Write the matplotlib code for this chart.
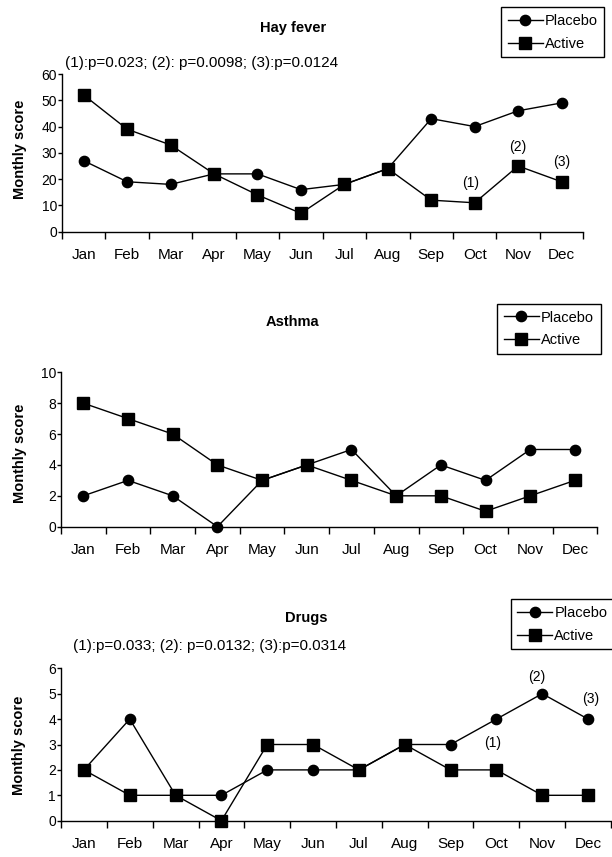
import matplotlib
matplotlib.use("Agg")
import matplotlib.pyplot as plt
from matplotlib.lines import Line2D

plt.rcParams['font.family'] = ['Liberation Sans', 'DejaVu Sans']

months = ["Jan", "Feb", "Mar", "Apr", "May", "Jun", "Jul", "Aug", "Sep", "Oct", "Nov", "Dec"]

hay_placebo = [27, 19, 18, 22, 22, 16, 18, 24, 43, 40, 46, 49]
hay_active = [52, 39, 33, 22, 14, 7, 18, 24, 12, 11, 25, 19]
hay_yticks = [0, 10, 20, 30, 40, 50, 60]
hay_note = "(1):p=0.023; (2): p=0.0098; (3):p=0.0124"
hay_labels = ["(1)", "(2)", "(3)"]
hay_label_month = [9, 10, 11]
hay_label_y = [18.4, 32.3, 26.6]

asthma_placebo = [2, 3, 2, 0, 3, 4, 5, 2, 4, 3, 5, 5]
asthma_active = [8, 7, 6, 4, 3, 4, 3, 2, 2, 1, 2, 3]
asthma_yticks = [0, 2, 4, 6, 8, 10]

drugs_placebo = [2, 4, 1, 1, 2, 2, 2, 3, 3, 4, 5, 4]
drugs_active = [2, 1, 1, 0, 3, 3, 2, 3, 2, 2, 1, 1]
drugs_yticks = [0, 1, 2, 3, 4, 5, 6]
drugs_note = "(1):p=0.033; (2): p=0.0132; (3):p=0.0314"
drugs_labels = ["(1)", "(2)", "(3)"]
drugs_label_month = [9, 10, 11]
drugs_label_y = [3.06, 5.66, 4.8]

W, H = 612, 857
fig = plt.figure(figsize=(W / 100, H / 100), dpi=100)

CIRC_MS = 7.4
SQ_MS = 8.1


def make_axes(x0, x1, ytop, ybot):
    return fig.add_axes([x0 / W, 1 - ybot / H, (x1 - x0) / W, (ybot - ytop) / H])


def draw_panel(ax, placebo, active, yticks, title, title_xy, legend_xy, ylabel_xy,
               note=None, note_xy=None, labels=None, label_month=None, label_y=None,
               label_dx=None):
    xs = [i + 0.5 for i in range(len(months))]
    ax.plot(xs, placebo, color='black', lw=1, marker='o', ms=CIRC_MS, clip_on=False, zorder=3)
    ax.plot(xs, active, color='black', lw=1, marker='s', ms=SQ_MS, clip_on=False, zorder=4)
    ax.set_xlim(0, len(months))
    ax.set_ylim(yticks[0], yticks[-1])
    ax.set_yticks(yticks)
    ax.set_yticklabels([str(t) for t in yticks], fontsize=10)
    ax.set_xticks(range(len(months) + 1))
    ax.set_xticklabels([])
    ax.set_xticks(xs, minor=True)
    ax.set_xticklabels(months, minor=True, fontsize=11)
    ax.tick_params(axis='x', which='minor', length=0, pad=12)
    ax.tick_params(axis='x', which='major', length=5, width=1, direction='out')
    ax.tick_params(axis='y', length=3.1, width=1, direction='out', pad=0.5)
    for s in ['top', 'right']:
        ax.spines[s].set_visible(False)
    for s in ['left', 'bottom']:
        ax.spines[s].set_linewidth(1)
    fig.text(ylabel_xy[0] / W, 1 - ylabel_xy[1] / H, "Monthly score", rotation=90,
             ha='center', va='center', fontsize=10.5, fontweight='bold')
    fig.text(title_xy[0] / W, 1 - title_xy[1] / H, title, ha='center', va='center',
             fontsize=10.5, fontweight='bold')
    if note:
        fig.text(note_xy[0] / W, 1 - note_xy[1] / H, note, ha='left', va='center', fontsize=11)
    if labels:
        for lab, i, v, dx in zip(labels, label_month, label_y, label_dx):
            ax.text(i + 0.5 + dx, v, lab, ha='center', va='center', fontsize=10)
    handles = [Line2D([], [], color='black', lw=1, marker='o', ms=CIRC_MS),
               Line2D([], [], color='black', lw=1, marker='s', ms=SQ_MS)]
    leg = fig.legend(handles, ["Placebo", "Active"], loc='upper left',
                     bbox_to_anchor=(legend_xy[0] / W, 1 - legend_xy[1] / H), fontsize=10.5,
                     frameon=True, fancybox=False, edgecolor='black',
                     handlelength=2.4, handletextpad=0.15, borderpad=0.45,
                     labelspacing=0.6, borderaxespad=0, framealpha=1)
    leg.get_frame().set_linewidth(1)


ax1 = make_axes(62, 583.3, 74, 231.7)
draw_panel(ax1, hay_placebo, hay_active, hay_yticks, "Hay fever", (293, 28),
           (501, 7.3), (20, 149), hay_note, (65, 63.3),
           hay_labels, hay_label_month, hay_label_y, [-0.1, 0.0, 0.0])

ax2 = make_axes(61, 597.3, 372.3, 526.7)
draw_panel(ax2, asthma_placebo, asthma_active, asthma_yticks, "Asthma", (292, 322.3),
           (497.3, 304), (20, 453))

ax3 = make_axes(61, 611, 668.3, 820.7)
draw_panel(ax3, drugs_placebo, drugs_active, drugs_yticks, "Drugs", (306, 618),
           (510.7, 599.3), (19.5, 745.3), drugs_note, (73, 646.3),
           drugs_labels, drugs_label_month, drugs_label_y, [-0.08, -0.11, 0.05])

fig.savefig("out.png", dpi=100, facecolor='white')
